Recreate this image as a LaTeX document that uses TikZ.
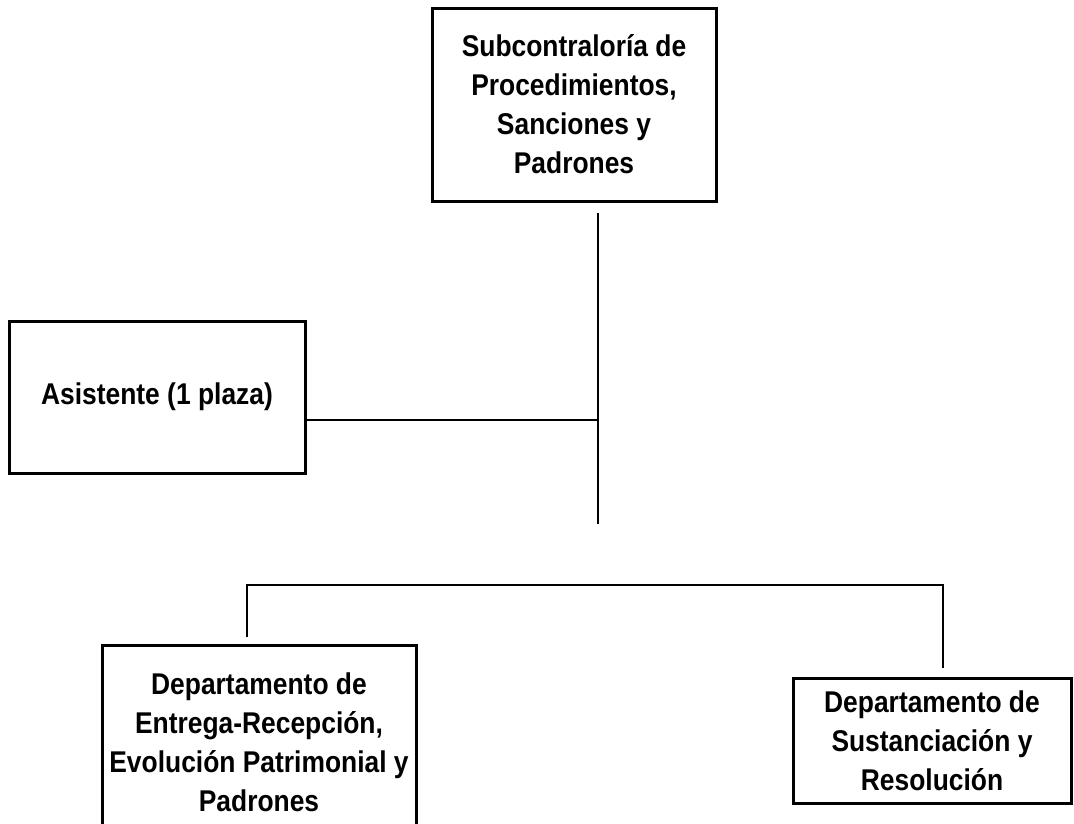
\documentclass[tikz,border=0pt]{standalone}
\usepackage{fontspec}
\setmainfont{Liberation Sans}[FakeStretch=0.88]
\usetikzlibrary{backgrounds}
\pgfdeclarelayer{edgelayer}
\pgfdeclarelayer{nodelayer}
\pgfsetlayers{edgelayer,nodelayer,main}
\tikzset{font=\bfseries\fontsize{30}{39}\selectfont}
\tikzstyle{none}=[inner sep=0pt]
\tikzstyle{unit}=[rectangle,draw,line width=3pt,inner sep=0pt,align=center]
\tikzstyle{link}=[line width=2pt]

\begin{document}
\begin{tikzpicture}[x=1pt,y=-1pt]
	\useasboundingbox (0,0) rectangle (1074,823);
	\clip (0,0) rectangle (1074,823);
	\begin{pgfonlayer}{nodelayer}
		\node [style=unit, minimum width=284pt, minimum height=193pt] (sub) at (574,104.5) {Subcontraloría de\\Procedimientos,\\Sanciones y\\Padrones};
		\node [style=unit, minimum width=296pt, minimum height=152pt] (asis) at (157,397) {Asistente (1 plaza)};
		\node [style=unit, minimum width=314pt, minimum height=195pt] (entrega) at (259,742.5) {Departamento de\\Entrega-Recepción,\\Evolución Patrimonial y\\Padrones};
		\node [style=unit, minimum width=278pt, minimum height=125pt] (sust) at (932,740.5) {Departamento de\\Sustanciación y\\Resolución};
		\coordinate (0) at (598,213);
		\coordinate (1) at (598,420);
		\coordinate (2) at (598,524);
		\coordinate (3) at (247,585);
		\coordinate (4) at (943,585);
		\coordinate (5) at (247,637);
		\coordinate (6) at (943,668);
	\end{pgfonlayer}
	\begin{pgfonlayer}{edgelayer}
		\draw [style=link] (0) to (2);
		\draw [style=link] (asis.east |- 1) to (1);
		\draw [style=link] (5) to (3) to (4) to (6);
	\end{pgfonlayer}
\end{tikzpicture}
\end{document}
